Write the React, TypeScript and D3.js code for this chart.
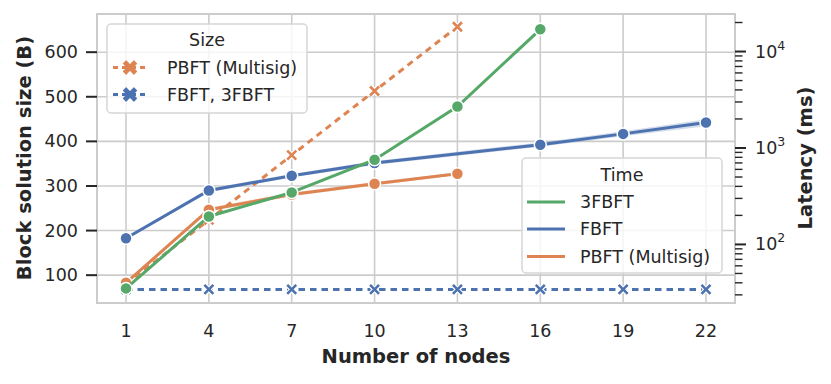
import React from "react";
import * as d3 from "d3";

// ---- data ----
const xTicks = [1, 4, 7, 10, 13, 16, 19, 22];
const yLeftTicks = [100, 200, 300, 400, 500, 600];
const yRightMajor = [100, 1000, 10000];
const yRightExp = ["2", "3", "4"];

// Size (left axis, dashed)
const sizePbftNodes = [1, 4, 7, 10, 13];
const sizePbft = [80, 224, 369, 513, 657];
const sizeFbftNodes = [1, 4, 7, 10, 13, 16, 19, 22];
const sizeFbft = [68, 68, 68, 68, 68, 68, 68, 68];

// Time (right axis, log, solid)
const t3fbftNodes = [1, 4, 7, 10, 13, 16];
const t3fbft = [35, 195, 346, 755, 2690, 17000];
const t3fbftLo = [34, 189, 336, 735, 2620, 16600];
const t3fbftHi = [36.5, 201, 356, 775, 2760, 17400];

const tFbftNodes = [1, 4, 7, 10, 16, 19, 22];
const tFbft = [116, 363, 515, 697, 1080, 1400, 1840];
const tFbftLo = [112, 348, 494, 665, 1030, 1320, 1680];
const tFbftHi = [120, 380, 538, 735, 1140, 1490, 1980];

const tPbftNodes = [1, 4, 7, 10, 13];
const tPbft = [40, 229, 330, 425, 540];
const tPbftLo = [38.5, 219, 315, 408, 522];
const tPbftHi = [41.5, 240, 346, 443, 558];

const BLUE = "#4c72b0";
const ORANGE = "#dd8452";
const GREEN = "#55a868";
const TXT = "#262626";
const GRID = "#cccccc";
const FONT = "DejaVu Sans";
const DASH = "6.5,5";

const L = 97, R = 735, T = 14, B = 303;

export default function App() {
  const x = d3.scaleLinear().domain([-0.05, 23.05]).range([L, R]);
  const yL = d3.scaleLinear().domain([37.6, 685.6]).range([B, T]);
  const yR = d3.scaleLog().domain([24.7, 24500]).range([B, T]);

  const minor: number[] = [];
  [10, 100, 1000, 10000].forEach((dec) => {
    for (let m = 2; m <= 9; m++) {
      const v = dec * m;
      if (v >= 24.7 && v <= 24500) minor.push(v);
    }
  });

  const lineL = (xs: number[], ys: number[]) =>
    d3.line<number>().x((_, i) => x(xs[i])).y((d) => yL(d))(ys) || "";
  const lineR = (xs: number[], ys: number[]) =>
    d3.line<number>().x((_, i) => x(xs[i])).y((d) => yR(d))(ys) || "";
  const bandR = (xs: number[], lo: number[], hi: number[]) =>
    d3
      .area<number>()
      .x((_, i) => x(xs[i]))
      .y0((_, i) => yR(lo[i]))
      .y1((_, i) => yR(hi[i]))(xs) || "";

  const xMark = (cx: number, cy: number, color: string, key: string) => {
    const s = 4.5;
    const d = `M${cx - s},${cy - s}L${cx + s},${cy + s}M${cx - s},${cy + s}L${cx + s},${cy - s}`;
    return (
      <g key={key}>
        <path d={d} stroke="white" strokeWidth={4.8} />
        <path d={d} stroke={color} strokeWidth={2.6} />
      </g>
    );
  };

  const bigX = (cx: number, cy: number, color: string) => {
    const a = 6.5, w = 2.6;
    const p = [
      [0, -w], [a - w, -a], [a, -a + w], [w, 0], [a, a - w], [a - w, a],
      [0, w], [-a + w, a], [-a, a - w], [-w, 0], [-a, -a + w], [-a + w, -a],
    ];
    const d = "M" + p.map(([px, py]) => `${cx + px},${cy + py}`).join("L") + "Z";
    return <path d={d} fill={color} stroke={color} strokeWidth={1.2} strokeLinejoin="round" />;
  };

  const circles = (xs: number[], ys: number[], color: string, k: string) =>
    ys.map((v, i) => (
      <circle key={k + i} cx={x(xs[i])} cy={yR(v)} r={6} fill={color} stroke="white" strokeWidth={1.5} />
    ));

  return (
    <svg width={831} height={384} style={{ position: "absolute", left: 0, top: 0 }} fontFamily={FONT}>
      <rect x={0} y={0} width={831} height={384} fill="white" />
      {/* grid */}
      {xTicks.map((t) => (
        <line key={"gx" + t} x1={x(t)} x2={x(t)} y1={T} y2={B} stroke={GRID} strokeWidth={1.6} />
      ))}
      {yLeftTicks.map((t) => (
        <line key={"gy" + t} x1={L} x2={R} y1={yL(t)} y2={yL(t)} stroke={GRID} strokeWidth={1.6} />
      ))}
      <rect x={L} y={T} width={R - L} height={B - T} fill="none" stroke={GRID} strokeWidth={2} />

      {/* left ticks */}
      {yLeftTicks.map((t) => (
        <g key={"lt" + t}>
          <line x1={L - 11} x2={L} y1={yL(t)} y2={yL(t)} stroke={TXT} strokeWidth={2} />
          <text x={L - 19} y={yL(t)} textAnchor="end" dominantBaseline="central" fontSize={17.5} fill={TXT}>
            {t}
          </text>
        </g>
      ))}
      {/* right ticks */}
      {minor.map((t) => (
        <line key={"rm" + t} x1={R} x2={R + 7.5} y1={yR(t)} y2={yR(t)} stroke={TXT} strokeWidth={1.4} />
      ))}
      {yRightMajor.map((t, i) => (
        <g key={"rt" + t}>
          <line x1={R} x2={R + 11} y1={yR(t)} y2={yR(t)} stroke={TXT} strokeWidth={2} />
          <text x={R + 20} y={yR(t)} dominantBaseline="central" fontSize={17.5} fill={TXT}>
            10
            <tspan fontSize={12.5} dy={-7}>{yRightExp[i]}</tspan>
          </text>
        </g>
      ))}
      {/* x tick labels */}
      {xTicks.map((t) => (
        <text key={"xt" + t} x={x(t)} y={331} textAnchor="middle" dominantBaseline="central" fontSize={17.5} fill={TXT}>
          {t}
        </text>
      ))}
      {/* axis labels */}
      <text x={416} y={356} textAnchor="middle" dominantBaseline="central" fontSize={19.5} fontWeight="bold" fill={TXT}>
        Number of nodes
      </text>
      <text transform={`translate(24,158) rotate(-90)`} textAnchor="middle" dominantBaseline="central" fontSize={19.5} fontWeight="bold" fill={TXT}>
        Block solution size (B)
      </text>
      <text transform={`translate(805,158) rotate(-90)`} textAnchor="middle" dominantBaseline="central" fontSize={19.5} fontWeight="bold" fill={TXT}>
        Latency (ms)
      </text>

      {/* Size legend */}
      <rect x={107} y={24} width={200} height={89} rx={4} fill="white" fillOpacity={0.8} stroke="#d6d6d6" strokeWidth={1.5} />
      <text x={207} y={40} textAnchor="middle" dominantBaseline="central" fontSize={17.5} fill={TXT}>Size</text>
      <line x1={113} x2={146} y1={67.5} y2={67.5} stroke={ORANGE} strokeWidth={3} strokeDasharray="5,4" />
      {bigX(130, 67.5, ORANGE)}
      <text x={167} y={67.5} dominantBaseline="central" fontSize={17.5} fill={TXT}>PBFT (Multisig)</text>
      <line x1={113} x2={146} y1={94.5} y2={94.5} stroke={BLUE} strokeWidth={3} strokeDasharray="5,4" />
      {bigX(130, 94.5, BLUE)}
      <text x={167} y={94.5} dominantBaseline="central" fontSize={17.5} fill={TXT}>FBFT, 3FBFT</text>

      {/* Size dashed lines */}
      <path d={lineL(sizeFbftNodes, sizeFbft)} fill="none" stroke={BLUE} strokeWidth={3} strokeDasharray={DASH} />
      {sizeFbft.map((v, i) => xMark(x(sizeFbftNodes[i]), yL(v), BLUE, "fx" + i))}
      <path d={lineL(sizePbftNodes, sizePbft)} fill="none" stroke={ORANGE} strokeWidth={3} strokeDasharray={DASH} />
      {sizePbft.map((v, i) => xMark(x(sizePbftNodes[i]), yL(v), ORANGE, "px" + i))}

      {/* Time bands */}
      <path d={bandR(tPbftNodes, tPbftLo, tPbftHi)} fill={ORANGE} fillOpacity={0.25} />
      <path d={bandR(tFbftNodes, tFbftLo, tFbftHi)} fill={BLUE} fillOpacity={0.25} />
      <path d={bandR(t3fbftNodes, t3fbftLo, t3fbftHi)} fill={GREEN} fillOpacity={0.25} />
      {/* Time lines */}
      <path d={lineR(tPbftNodes, tPbft)} fill="none" stroke={ORANGE} strokeWidth={3} />
      {circles(tPbftNodes, tPbft, ORANGE, "pc")}
      <path d={lineR(tFbftNodes, tFbft)} fill="none" stroke={BLUE} strokeWidth={3} />
      {circles(tFbftNodes, tFbft, BLUE, "fc")}
      <path d={lineR(t3fbftNodes, t3fbft)} fill="none" stroke={GREEN} strokeWidth={3} />
      {circles(t3fbftNodes, t3fbft, GREEN, "gc")}

      {/* Time legend */}
      <rect x={522} y={158} width={200} height={115} rx={4} fill="white" fillOpacity={0.8} stroke="#d6d6d6" strokeWidth={1.5} />
      <text x={622} y={175} textAnchor="middle" dominantBaseline="central" fontSize={17.5} fill={TXT}>Time</text>
      <line x1={527} x2={565} y1={202} y2={202} stroke={GREEN} strokeWidth={3} />
      <text x={580} y={202} dominantBaseline="central" fontSize={17.5} fill={TXT}>3FBFT</text>
      <line x1={527} x2={565} y1={229} y2={229} stroke={BLUE} strokeWidth={3} />
      <text x={580} y={229} dominantBaseline="central" fontSize={17.5} fill={TXT}>FBFT</text>
      <line x1={527} x2={565} y1={256.5} y2={256.5} stroke={ORANGE} strokeWidth={3} />
      <text x={580} y={256.5} dominantBaseline="central" fontSize={17.5} fill={TXT}>PBFT (Multisig)</text>
    </svg>
  );
}
